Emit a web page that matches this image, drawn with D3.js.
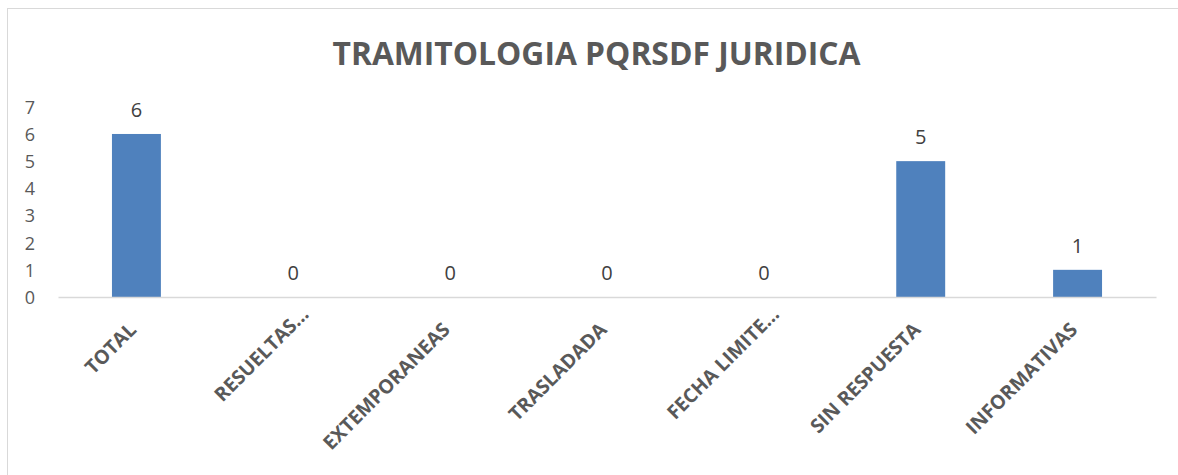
<!DOCTYPE html>
<html>
<head>
<meta charset="utf-8">
<script src="https://cdn.jsdelivr.net/npm/d3@7"></script>
<style>
  html, body { margin: 0; padding: 0; background: #ffffff; }
  svg { display: block; font-family: "Open Sans", "Segoe UI", sans-serif; }
</style>
</head>
<body>
<svg id="chart" width="1178" height="475"></svg>
<script>
const title = "TRAMITOLOGIA PQRSDF JURIDICA";
const categories = ["TOTAL", "RESUELTAS...", "EXTEMPORANEAS", "TRASLADADA", "FECHA LIMITE...", "SIN RESPUESTA", "INFORMATIVAS"];
const values = [6, 0, 0, 0, 0, 5, 1];
const yTicks = [0, 1, 2, 3, 4, 5, 6, 7];

const svg = d3.select("#chart");
const W = 1178, H = 475;
const plot = { left: 58, right: 1156, top: 106.8, bottom: 297 };

svg.append("rect").attr("x", 7.5).attr("y", 8.5).attr("width", W + 10).attr("height", H + 10)
  .attr("fill", "#fff").attr("stroke", "#d9d9d9").attr("stroke-width", 1);

svg.append("text").attr("x", 596.5).attr("y", 65).attr("text-anchor", "middle")
  .attr("font-size", 31.8).attr("font-weight", "bold").attr("fill", "#595959").text(title);

const x = d3.scaleBand().domain(categories).range([plot.left, plot.right])
  .paddingInner(0.688).paddingOuter(0.344);
const y = d3.scaleLinear().domain([0, 7]).range([plot.bottom, plot.top]);

// y tick labels
const yAxis = d3.axisLeft(y).tickValues(yTicks).tickSize(0).tickPadding(0).tickFormat(d3.format("d"));
const gy = svg.append("g").attr("transform", "translate(35,0)").call(yAxis);
gy.select(".domain").remove();
gy.selectAll("text").attr("font-size", 18).attr("fill", "#595959").attr("font-family", "Open Sans").attr("dy", "0.36em");

// bars
svg.append("g").selectAll("rect").data(values).join("rect")
  .attr("x", (d, i) => x(categories[i]))
  .attr("width", x.bandwidth())
  .attr("y", d => y(d))
  .attr("height", d => y(0) - y(d))
  .attr("fill", "#4f81bd");

// axis line
const xAxis = d3.axisBottom(x).tickSize(0).tickFormat("");
const gx = svg.append("g").attr("transform", `translate(0,${plot.bottom})`).call(xAxis);
gx.select(".domain").attr("stroke", "#d9d9d9").attr("stroke-width", 1.5);

// value labels
svg.append("g").selectAll("text").data(values).join("text")
  .attr("x", (d, i) => x(categories[i]) + x.bandwidth() / 2)
  .attr("y", d => y(d) - 17)
  .attr("text-anchor", "middle").attr("font-size", 20).attr("fill", "#404040")
  .text(d => d);

// category labels rotated
svg.append("g").selectAll("text").data(categories).join("text")
  .attr("transform", d => `translate(${x(d) + x.bandwidth() / 2 + 1},${plot.bottom + 34}) rotate(-45)`)
  .attr("dx", d => d.endsWith("...") ? 22 : 0)
  .attr("text-anchor", "end").attr("font-size", 19.5).attr("font-weight", "bold").attr("fill", "#595959")
  .text(d => d);
</script>
</body>
</html>
